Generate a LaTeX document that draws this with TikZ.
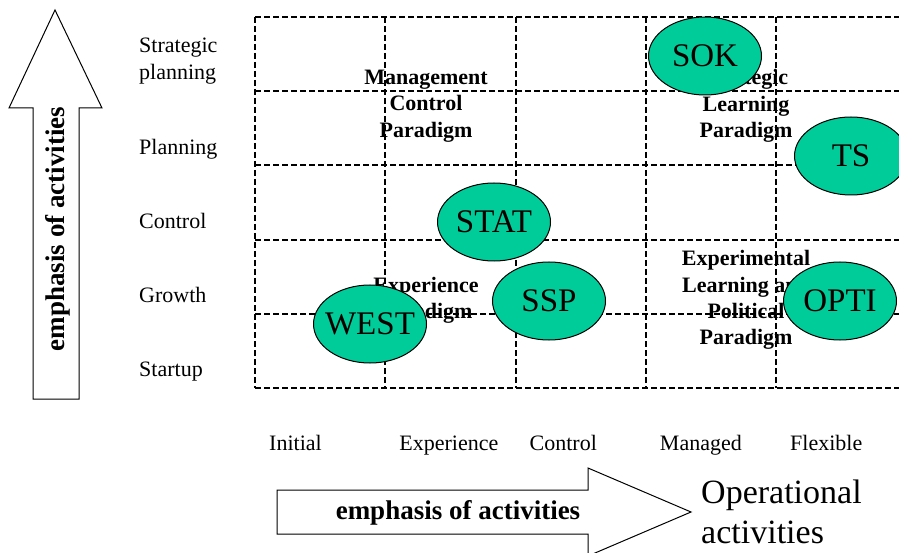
\documentclass[tikz,border=0pt]{standalone}
\usepackage{fontspec}
\setmainfont{Liberation Serif}
\usetikzlibrary{shapes.geometric}
\definecolor{unitgreen}{RGB}{0,204,153}
% zero-width box, so the ellipse keeps its own size
\newcommand{\unitname}[1]{\makebox[0pt]{#1}}

\begin{document}
\begin{tikzpicture}[x=1pt,y=-1pt,
    gridline/.style={draw=black,line width=2pt,dash pattern=on 6pt off 3pt},
    axislabel/.style={font=\fontsize{22}{26.4}\selectfont,inner sep=0pt,anchor=base west},
    paradigm/.style={font=\bfseries\fontsize{22}{26.4}\selectfont,inner sep=0pt,align=center},
    unit/.style={ellipse,draw=black,line width=1pt,fill=unitgreen,minimum width=113pt,minimum height=78pt,inner sep=0pt,font=\fontsize{33}{40}\selectfont},
    bigarrow/.style={draw=black,line width=1pt,fill=white,line join=miter},
    arrowtext/.style={font=\bfseries\fontsize{27}{32}\selectfont,inner sep=0pt}]
      \useasboundingbox (0,0) rectangle (899,553);

      % paradigms behind the grid
      \node[paradigm] (mcp) at (426,106) {Management\\Control\\Paradigm};
      \node[paradigm] (slp) at (746,106) {Strategic\\Learning\\Paradigm};
      \node[paradigm] (exp) at (426,300.5) {Experience\\Paradigm};
      \node[paradigm] (elp) at (746,300) {Experimental\\Learning and\\Political\\Paradigm};

      % dashed grid
      \foreach \x in {255,385,516,646,776} \draw[gridline] (\x,17) -- (\x,388);
      \foreach \y in {17,91,165,240,314,388} \draw[gridline] (255,\y) -- (906,\y);

      % axis labels
      \node[axislabel,anchor=west,align=left] (sp) at (139,61) {Strategic\\planning};
      \foreach \name [count=\j] in {Planning,Control,Growth,Startup}
        \node[axislabel] (row\j) at (139,80+74.2*\j) {\name};
      \foreach \name [count=\i from 0] in {Initial,Experience,Control,Managed,Flexible}
        \node[axislabel] (col\i) at (269+130.25*\i,450) {\name};

      % units
      \node[unit] (sok) at (705,56) {\unitname{SOK}};
      \node[unit] (ts) at (851,156) {\unitname{TS}};
      \node[unit] (stat) at (494,222) {\unitname{STAT}};
      \node[unit] (ssp) at (549,301) {\unitname{SSP}};
      \node[unit] (west) at (370,324) {\unitname{WEST}};
      \node[unit] (opti) at (840,301) {\unitname{OPTI}};

      % block arrows
      \draw[bigarrow] (33,399) -- (33,108) -- (9,108) -- (55,10) -- (102,108) -- (79,108) -- (79,399) -- cycle;
      \node[arrowtext,rotate=90] (vert) at (58,229) {emphasis of activities};
      \draw[bigarrow] (277,490) -- (588,490) -- (588,468) -- (691,512) -- (588,556) -- (588,534) -- (277,534) -- cycle;
      \node[arrowtext] (horiz) at (458,513) {emphasis of activities};
      \node[font=\fontsize{34}{40}\selectfont,inner sep=0pt,anchor=west,align=left] (ops) at (701,512) {Operational\\activities};
\end{tikzpicture}
\end{document}
